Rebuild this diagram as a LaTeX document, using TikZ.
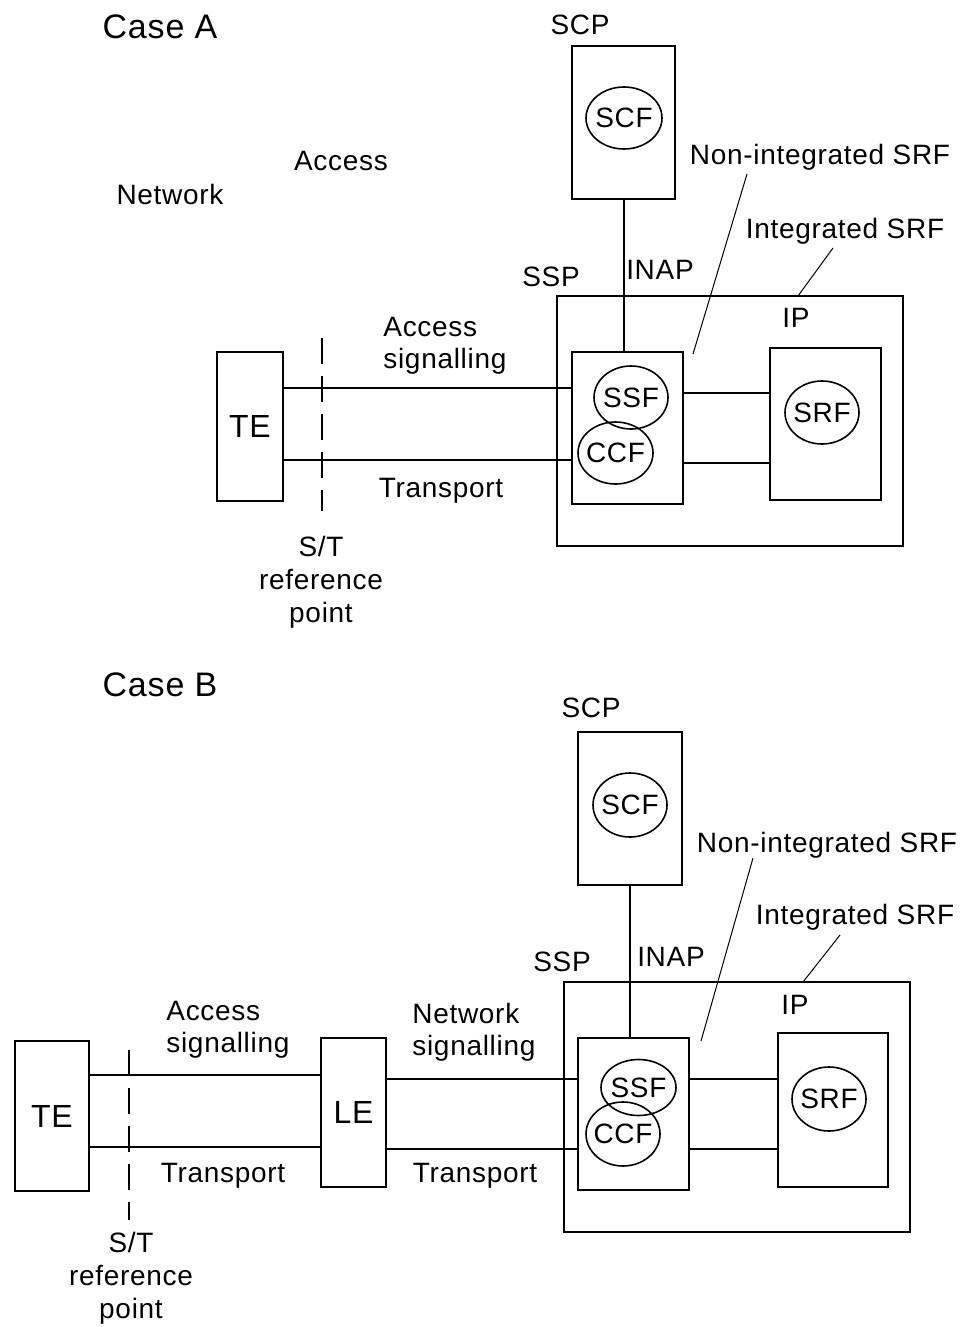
\documentclass[tikz,border=0pt]{standalone}
\usepackage{fontspec}
\setmainfont[LetterSpace=2.5]{Liberation Sans}
\usetikzlibrary{shapes.geometric}
\newcommand\lblfont{\fontsize{14}{16}\selectfont}
\newcommand\casefont{\fontsize{17}{20}\selectfont}
\newcommand\unitfont{\fontsize{16}{19}\selectfont}
\tikzset{
  box/.style n args={2}{draw,line width=1pt,inner sep=0pt,
    minimum width=#1,minimum height=#2,font=\unitfont},
  func/.style n args={2}{ellipse,draw,line width=0.8pt,inner xsep=-2pt,
    inner ysep=0pt,minimum width=#1,minimum height=#2,font=\lblfont},
  lbl/.style={font=\lblfont,inner sep=0pt},
  link/.style={line width=1pt},
  pointer/.style={line width=0.5pt},
  stref/.style={line width=1pt,dash pattern=on 13pt off 6pt}
}
\begin{document}
\begin{tikzpicture}[x=0.5pt,y=-0.5pt]
  \useasboundingbox (0,0) rectangle (962,1327);

  % ---- Case A: TE attached directly to the SSP
  \node[lbl,font=\casefont] (caseA) at (160,27) {Case A};
  \node[lbl] (netA) at (170,194) {Network};
  \node[lbl] (accA) at (341,161) {Access};

  \node[box={51.5pt}{76.5pt}] (scpA) at (623.5,122.5) {};
  \node[lbl] (scpAlbl) at (580,25) {SCP};
  \node[func={38pt}{31pt}] (scfA) at (624,118) {SCF};

  \node[box={173pt}{125pt}] (sspA) at (730,421) {};
  \node[box={55.5pt}{76pt}] (swA) at (627.5,428) {};
  \node[func={37pt}{31.5pt}] (ssfA) at (631,397.5) {SSF};
  \node[func={37.5pt}{31pt}] (ccfA) at (615.5,453) {CCF};
  \node[box={55.5pt}{76pt}] (ipA) at (825.5,424) {};
  \node[func={37pt}{31.5pt}] (srfA) at (822,412.5) {SRF};
  \node[lbl] (sspAlbl) at (551,277) {SSP};
  \node[lbl] (inapA) at (660,270) {INAP};
  \node[lbl] (ipAlbl) at (796,318) {IP};
  \node[lbl] (nonA) at (820,157) {Non-integrated SRF};
  \node[lbl] (intA) at (845,231) {Integrated SRF};

  \node[box={33pt}{74.5pt}] (teA) at (250,426.5) {TE};

  \coordinate (sigA) at (0,388);
  \coordinate (trA) at (0,460);
  \coordinate (sig2A) at (0,393);
  \coordinate (tr2A) at (0,463);
  \foreach \r in {sigA,trA}{\draw[link] (teA.east |- \r) -- (swA.west |- \r);}
  \foreach \r in {sig2A,tr2A}{\draw[link] (swA.east |- \r) -- (ipA.west |- \r);}
  \draw[link] (scpA.south) -- (scpA.south |- swA.north);

  \coordinate (nonAtip) at (747,174);
  \coordinate (nonAend) at (693,354);
  \coordinate (intAtip) at (833,248);
  \coordinate (intAend) at (798,296);
  \draw[pointer] (nonAtip) -- (nonAend);
  \draw[pointer] (intAtip) -- (intAend);

  \coordinate (stAtop) at (322,338);
  \coordinate (stAbot) at (322,511);
  \draw[stref] (stAtop) -- (stAbot);

  \node[lbl,anchor=west,align=left] (sigAlbl) at (383,346) {Access\\signalling};
  \node[lbl] (trAlbl) at (441,491) {Transport};
  \node[lbl,align=center,font=\fontsize{14}{16.5}\selectfont] (stAlbl) at (321,582)
       {S/T\\reference\\point};

  % ---- Case B: TE reaches the SSP through the LE
  \node[lbl,font=\casefont] (caseB) at (160,685) {Case B};

  \node[box={52pt}{76.5pt}] (scpB) at (630,808.5) {};
  \node[lbl] (scpBlbl) at (591,708) {SCP};
  \node[func={37pt}{32pt}] (scfB) at (630,805) {SCF};

  \node[box={173pt}{125pt}] (sspB) at (737,1107) {};
  \node[box={55.5pt}{76pt}] (swB) at (633.5,1114) {};
  \node[func={37.5pt}{28pt}] (ssfB) at (638.5,1087.5) {SSF};
  \node[func={37pt}{32pt}] (ccfB) at (623,1134) {CCF};
  \node[box={55pt}{77pt}] (ipB) at (833,1110) {};
  \node[func={37pt}{32pt}] (srfB) at (829,1099) {SRF};
  \node[lbl] (sspBlbl) at (562,962) {SSP};
  \node[lbl] (inapB) at (671,957) {INAP};
  \node[lbl] (ipBlbl) at (795,1005) {IP};
  \node[lbl] (nonB) at (827,845) {Non-integrated SRF};
  \node[lbl] (intB) at (855,917) {Integrated SRF};

  \node[box={37pt}{75pt}] (teB) at (52,1116) {TE};
  \node[box={32.5pt}{74.5pt}] (leB) at (353.5,1112.5) {LE};

  \coordinate (sigB) at (0,1075);
  \coordinate (trB) at (0,1147);
  \coordinate (sig2B) at (0,1079);
  \coordinate (tr2B) at (0,1149);
  \foreach \r in {sigB,trB}{\draw[link] (teB.east |- \r) -- (leB.west |- \r);}
  \foreach \r in {sig2B,tr2B}{
    \draw[link] (leB.east |- \r) -- (swB.west |- \r);
    \draw[link] (swB.east |- \r) -- (ipB.west |- \r);
  }
  \draw[link] (scpB.south) -- (scpB.south |- swB.north);

  \coordinate (nonBtip) at (753,858);
  \coordinate (nonBend) at (701,1041);
  \coordinate (intBtip) at (840,935);
  \coordinate (intBend) at (803,982);
  \draw[pointer] (nonBtip) -- (nonBend);
  \draw[pointer] (intBtip) -- (intBend);

  \coordinate (stBtop) at (129,1050);
  \coordinate (stBbot) at (129,1220);
  \draw[stref] (stBtop) -- (stBbot);

  \node[lbl,anchor=west,align=left] (sigBlbl) at (166,1030) {Access\\signalling};
  \node[lbl,anchor=west,align=left] (nsigBlbl) at (412,1032) {Network\\signalling};
  \node[lbl] (trBlbl) at (223,1176) {Transport};
  \node[lbl] (tr2Blbl) at (475,1176) {Transport};
  \node[lbl,align=center,font=\fontsize{14}{16.5}\selectfont] (stBlbl) at (131,1278)
       {S/T\\reference\\point};
\end{tikzpicture}
\end{document}
